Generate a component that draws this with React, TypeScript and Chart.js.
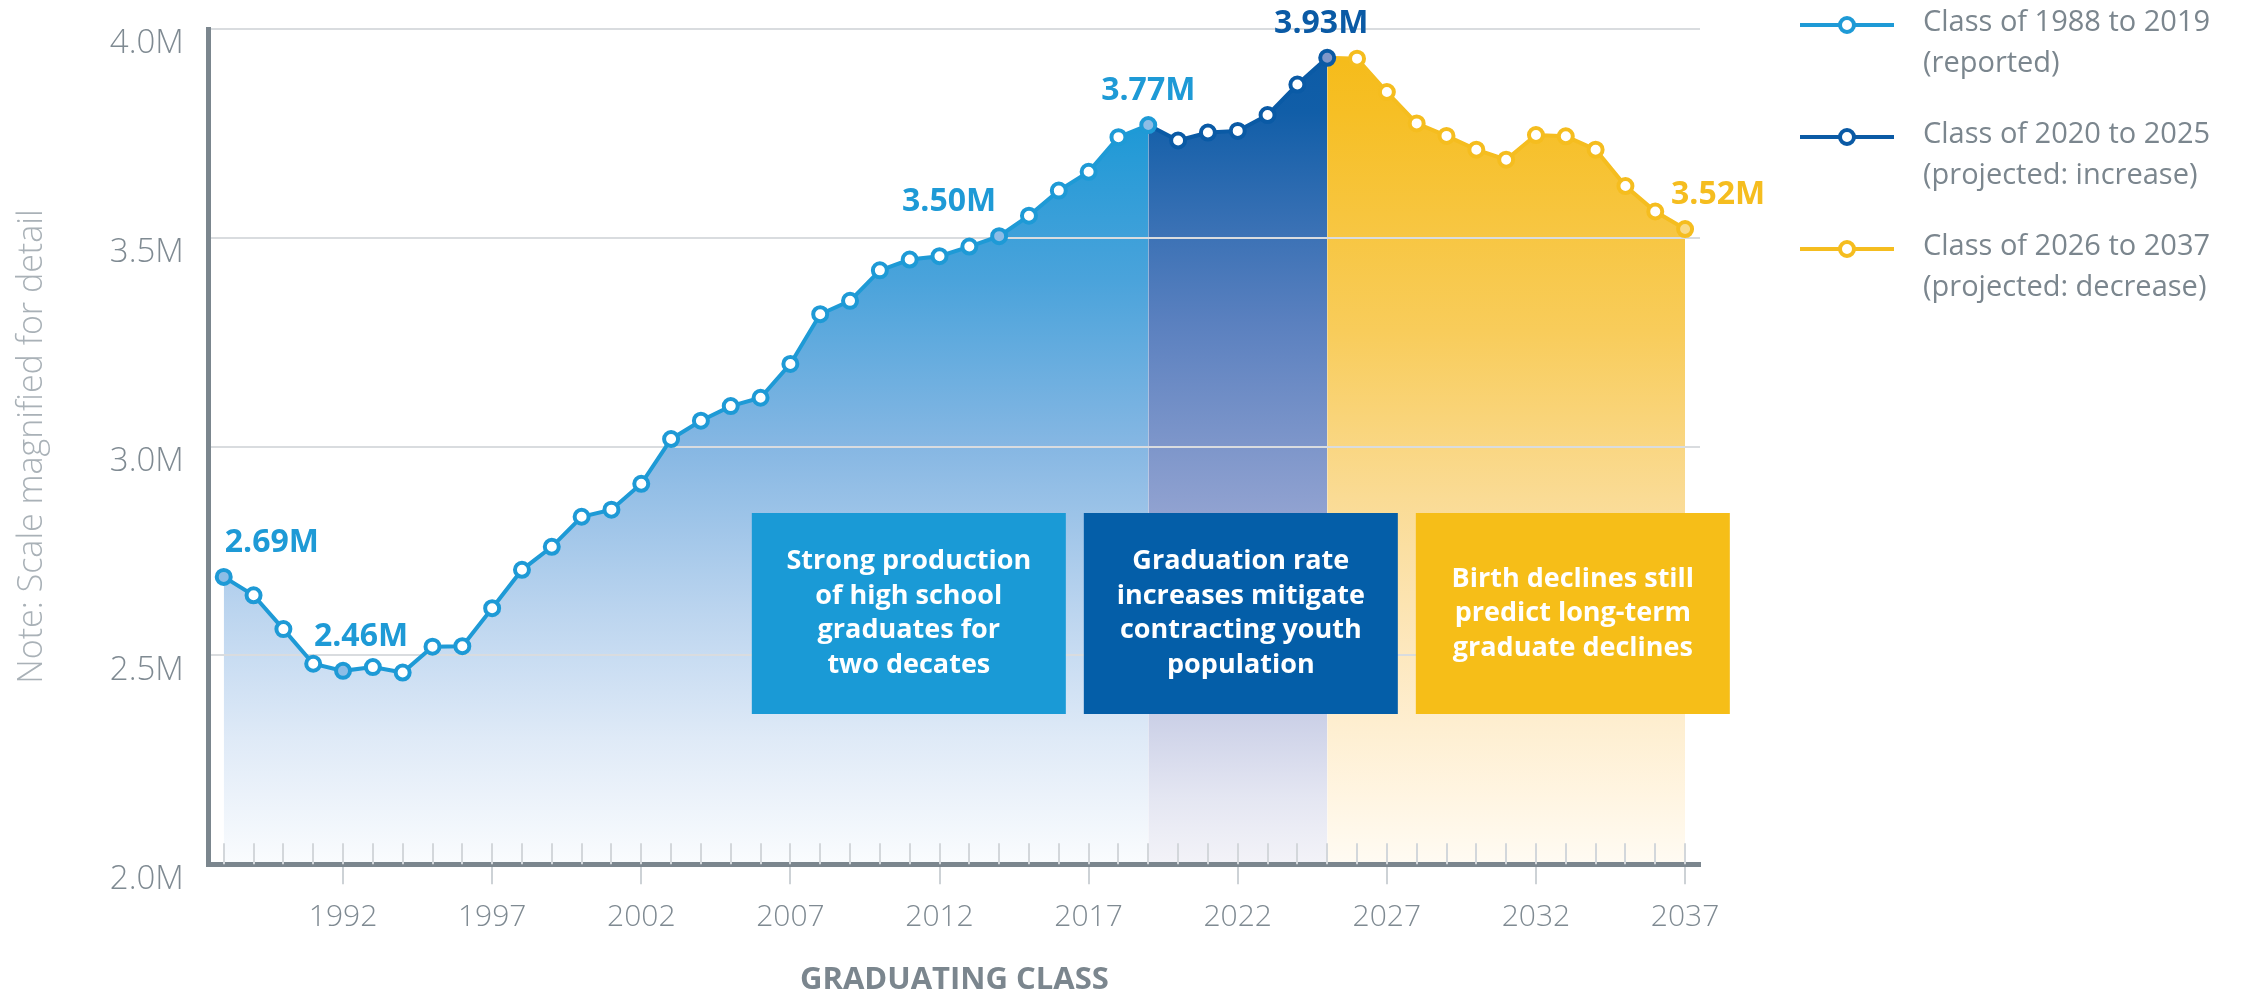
import React, { useEffect, useRef } from 'react';
import { Chart, registerables } from 'chart.js';

Chart.register(...registerables);

// ---------- data ----------
const reportedYears = [
  1988, 1989, 1990, 1991, 1992, 1993, 1994, 1995, 1996, 1997, 1998, 1999, 2000, 2001, 2002, 2003,
  2004, 2005, 2006, 2007, 2008, 2009, 2010, 2011, 2012, 2013, 2014, 2015, 2016, 2017, 2018, 2019,
];
const reportedValues = [
  2.688, 2.644, 2.563, 2.48, 2.463, 2.472, 2.459, 2.521, 2.522, 2.613, 2.705, 2.76, 2.832, 2.849, 2.911, 3.018,
  3.062, 3.097, 3.117, 3.198, 3.317, 3.349, 3.422, 3.448, 3.456, 3.479, 3.504, 3.553, 3.613, 3.658, 3.741, 3.77,
];
const increaseYears = [2020, 2021, 2022, 2023, 2024, 2025];
const increaseValues = [3.733, 3.752, 3.756, 3.794, 3.867, 3.931];
const decreaseYears = [2026, 2027, 2028, 2029, 2030, 2031, 2032, 2033, 2034, 2035, 2036, 2037];
const decreaseValues = [3.929, 3.849, 3.774, 3.744, 3.711, 3.687, 3.746, 3.743, 3.711, 3.624, 3.563, 3.521];

const highlightYears = [1988, 1992, 2014, 2019, 2025, 2037];
const labeledYears = [1992, 1997, 2002, 2007, 2012, 2017, 2022, 2027, 2032, 2037];
const yTicks = [2.0, 2.5, 3.0, 3.5, 4.0];

const seriesLabels = [
  ['Class of 1988 to 2019', '(reported)'],
  ['Class of 2020 to 2025', '(projected: increase)'],
  ['Class of 2026 to 2037', '(projected: decrease)'],
];
const noteTexts = [
  ['Strong production', 'of high school', 'graduates for', 'two decates'],
  ['Graduation rate', 'increases mitigate', 'contracting youth', 'population'],
  ['Birth declines still', 'predict long-term', 'graduate declines'],
];
const xTitle = 'GRADUATING CLASS';
const yTitle = 'Note: Scale magnified for detail';

// ---------- styles ----------
const LIGHT = '#1e9ad6';
const DARK = '#0a5aa5';
const YELLOW = '#f5bd1f';
const GREY = '#7b868e';
const FONT = '"Open Sans", "Noto Sans", sans-serif';
const seriesColors = [LIGHT, DARK, YELLOW];
const highlightFills = ['#8dbde6', '#7f97c9', '#f9db88'];
const noteColors = ['#1a9ad6', '#045ea8', '#f6be18'];

const labelPlacement: Record<number, { align: CanvasTextAlign; dx: number; color: string }> = {
  1988: { align: 'left', dx: 1, color: LIGHT },
  1992: { align: 'center', dx: 18, color: LIGHT },
  2014: { align: 'right', dx: -3, color: LIGHT },
  2019: { align: 'center', dx: 0, color: LIGHT },
  2025: { align: 'center', dx: -6, color: DARK },
  2037: { align: 'center', dx: 33, color: YELLOW },
};

function gradient(stops: [number, string][]) {
  return (c: any) => {
    const area = c.chart.chartArea;
    if (!area) return 'rgba(0,0,0,0)';
    const g = c.chart.ctx.createLinearGradient(0, area.top, 0, area.bottom);
    for (const [o, col] of stops) g.addColorStop(o, col);
    return g;
  };
}

const toPoints = (xs: number[], ys: number[]) => xs.map((x, i) => ({ x, y: ys[i] }));

const minorTicksPlugin = {
  id: 'minorTicks',
  beforeDatasetsDraw(chart: any) {
    const xs = chart.scales.x;
    const { bottom } = chart.chartArea;
    const ctx = chart.ctx;
    ctx.save();
    ctx.strokeStyle = '#d3d7db';
    ctx.lineWidth = 2;
    xs.ticks.forEach((t: any) => {
      const px = Math.round(xs.getPixelForValue(t.value));
      ctx.beginPath();
      ctx.moveTo(px, bottom - 21);
      ctx.lineTo(px, bottom);
      ctx.stroke();
    });
    ctx.restore();
  },
};

const allYears = [...reportedYears, ...increaseYears, ...decreaseYears];
const allValues = [...reportedValues, ...increaseValues, ...decreaseValues];

const valueLabelsPlugin = {
  id: 'valueLabels',
  afterDatasetsDraw(chart: any) {
    const ctx = chart.ctx;
    const xs = chart.scales.x;
    const ys = chart.scales.y;
    ctx.save();
    ctx.font = `bold 32px ${FONT}`;
    ctx.textBaseline = 'middle';
    highlightYears.forEach((yr) => {
      const v = allValues[allYears.indexOf(yr)];
      const p = labelPlacement[yr];
      const px = xs.getPixelForValue(yr);
      const py = ys.getPixelForValue(v);
      ctx.fillStyle = p.color;
      ctx.textAlign = p.align;
      ctx.fillText(`${v.toFixed(2)}M`, px + p.dx, py - 34);
    });
    ctx.restore();
  },
};

const notesPlugin = {
  id: 'notes',
  afterDraw(chart: any) {
    const ctx = chart.ctx;
    const area = chart.chartArea;
    ctx.save();
    noteTexts.forEach((lines, i) => {
      const left = area.left + 543 + i * 332;
      const top = 513;
      const w = 314;
      const h = 201;
      ctx.fillStyle = noteColors[i];
      ctx.fillRect(left, top, w, h);
      ctx.fillStyle = '#ffffff';
      ctx.font = `bold 27px ${FONT}`;
      ctx.textAlign = 'center';
      ctx.textBaseline = 'middle';
      const lh = 34.5;
      const startY = top + h / 2 - ((lines.length - 1) * lh) / 2;
      lines.forEach((t, k) => ctx.fillText(t, left + w / 2, startY + k * lh));
    });
    ctx.restore();
  },
};

const legendPlugin = {
  id: 'customLegend',
  afterDraw(chart: any) {
    const ctx = chart.ctx;
    const area = chart.chartArea;
    const x0 = area.right + 100;
    ctx.save();
    chart.data.datasets.forEach((ds: any, i: number) => {
      const lines = ds.label as string[];
      const color = seriesColors[i];
      const y0 = 23 + i * 112;
      const my = y0 + 2;
      ctx.strokeStyle = color;
      ctx.lineWidth = 4;
      ctx.beginPath();
      ctx.moveTo(x0, my);
      ctx.lineTo(x0 + 94, my);
      ctx.stroke();
      ctx.beginPath();
      ctx.arc(x0 + 47, my, 7, 0, Math.PI * 2);
      ctx.fillStyle = '#ffffff';
      ctx.fill();
      ctx.stroke();
      ctx.fillStyle = GREY;
      ctx.font = `29px ${FONT}`;
      ctx.textAlign = 'left';
      ctx.textBaseline = 'middle';
      lines.forEach((t, k) => ctx.fillText(t, x0 + 123, y0 + k * 41));
    });
    ctx.restore();
  },
};

export default function App() {
  const ref = useRef<HTMLCanvasElement>(null);

  useEffect(() => {
    const canvas = ref.current;
    if (!canvas) return;
    Chart.defaults.font.family = FONT;

    const d1 = toPoints(reportedYears, reportedValues);
    const d2 = [d1[d1.length - 1], ...toPoints(increaseYears, increaseValues)];
    const d3 = [d2[d2.length - 1], ...toPoints(decreaseYears, decreaseValues)];
    const fills = (pts: any[], c: string) => pts.map((p) => (highlightYears.includes(p.x) ? c : '#ffffff'));
    const radii = (pts: any[], skipFirst: boolean) => pts.map((_, i) => (skipFirst && i === 0 ? 0 : 7));

    const common = {
      borderWidth: 4,
      pointBorderWidth: 4,
      pointHoverRadius: 7,
      tension: 0,
      fill: 'start',
    };

    const chart = new Chart(canvas, {
      type: 'line',
      data: {
        datasets: [
          {
            ...common,
            label: seriesLabels[0] as any,
            data: d1,
            borderColor: LIGHT,
            pointBorderColor: LIGHT,
            pointBackgroundColor: fills(d1, highlightFills[0]),
            pointRadius: radii(d1, false),
            backgroundColor: gradient([
              [0, '#1496d6'],
              [0.12, '#1f99d6'],
              [0.3, '#4aa3db'],
              [0.5, '#86b7e3'],
              [0.7, '#bcd5ef'],
              [0.85, '#dfeaf7'],
              [1, '#fafcfe'],
            ]),
          },
          {
            ...common,
            label: seriesLabels[1] as any,
            data: d2,
            borderColor: DARK,
            pointBorderColor: DARK,
            pointBackgroundColor: fills(d2, highlightFills[1]),
            pointRadius: radii(d2, true),
            backgroundColor: gradient([
              [0, '#0a5aa5'],
              [0.1, '#115ea8'],
              [0.35, '#5a80bf'],
              [0.56, '#8c9fcf'],
              [0.75, '#b9c0df'],
              [0.92, '#e4e6f2'],
              [1, '#f3f3f8'],
            ]),
          },
          {
            ...common,
            label: seriesLabels[2] as any,
            data: d3,
            borderColor: YELLOW,
            pointBorderColor: YELLOW,
            pointBackgroundColor: fills(d3, highlightFills[2]),
            pointRadius: radii(d3, true),
            backgroundColor: gradient([
              [0, '#f5ba15'],
              [0.1, '#f6bf25'],
              [0.36, '#f8cc5a'],
              [0.56, '#fadb94'],
              [0.75, '#fde8bf'],
              [0.92, '#fff5e2'],
              [1, '#fffbf3'],
            ]),
          },
        ] as any,
      },
      options: {
        responsive: false,
        animation: false,
        devicePixelRatio: 1,
        layout: { padding: { top: 29, right: 567, bottom: 0, left: 0 } },
        plugins: {
          legend: { display: false },
          tooltip: { enabled: false },
          filler: { drawTime: 'beforeDraw' },
        } as any,
        scales: {
          x: {
            type: 'linear',
            min: 1987.5,
            max: 2037.5,
            afterBuildTicks: (scale: any) => {
              scale.ticks = allYears.map((v) => ({ value: v }));
            },
            ticks: {
              autoSkip: false,
              maxRotation: 0,
              minRotation: 0,
              padding: 15,
              color: '#7f8a92',
              font: { size: 30, weight: '300' as any },
              callback: (v: any) => (labeledYears.includes(Number(v)) ? String(v) : ''),
            },
            grid: {
              drawOnChartArea: false,
              drawTicks: true,
              tickLength: 20,
              lineWidth: 2,
              color: (c: any) => (c.tick && labeledYears.includes(c.tick.value) ? '#cdd2d6' : 'rgba(0,0,0,0)'),
            },
            border: { display: true, color: GREY, width: 5 },
            title: {
              display: true,
              text: xTitle,
              color: GREY,
              font: { size: 31, weight: 'bold', lineHeight: 0.8 },
              padding: { top: 18, bottom: 0 },
            },
          },
          y: {
            type: 'linear',
            min: 2,
            max: 4,
            afterBuildTicks: (scale: any) => {
              scale.ticks = yTicks.map((v) => ({ value: v }));
            },
            ticks: {
              padding: 5,
              labelOffset: 15,
              color: '#7f8a92',
              font: { size: 33, weight: '300' as any },
              callback: (v: any) => `${Number(v).toFixed(1)}M`,
            },
            grid: {
              drawTicks: true,
              tickLength: 20,
              tickColor: 'rgba(0,0,0,0)',
              color: '#d9dcdf',
              lineWidth: 2,
            },
            border: { display: true, color: GREY, width: 5 },
            title: {
              display: true,
              text: yTitle,
              color: '#a9b1b7',
              font: { size: 34, weight: '300' as any, lineHeight: 1.2 },
              padding: { top: 12, bottom: 52 },
            },
          },
        },
      },
      plugins: [minorTicksPlugin, valueLabelsPlugin, notesPlugin, legendPlugin],
    });

    return () => chart.destroy();
  }, []);

  return (
    <div style={{ position: 'absolute', left: 0, top: 0, width: 2267, height: 993, background: '#ffffff' }}>
      <canvas ref={ref} width={2267} height={993} style={{ display: 'block' }} />
    </div>
  );
}
